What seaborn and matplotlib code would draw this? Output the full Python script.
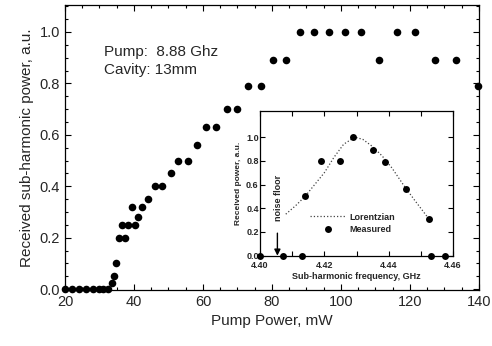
import matplotlib
matplotlib.use("Agg")
import numpy as np
import pandas as pd
import seaborn as sns
import matplotlib.pyplot as plt
from matplotlib.ticker import MultipleLocator, FixedLocator, FormatStrFormatter

# Main curve: received sub-harmonic power vs pump power
pump_mw = [20, 22, 24, 26, 28, 30, 31, 32.5, 33.5, 34.2, 34.9, 35.6, 36.6, 37.5, 38.4,
           39.4, 40.3, 41.1, 42.2, 44.2, 46.2, 48.2, 50.7, 52.9, 55.6, 58.2, 60.9, 63.8,
           67.0, 70.0, 73.2, 76.8, 80.4, 84.1, 88.1, 92.3, 96.6, 101.2, 105.9, 111.0,
           116.2, 121.6, 127.4, 133.3, 139.6]
power = [0, 0, 0, 0, 0, 0, 0, 0, 0.025, 0.05, 0.10, 0.20, 0.25, 0.20, 0.25,
         0.32, 0.25, 0.28, 0.32, 0.35, 0.40, 0.40, 0.45, 0.50, 0.50, 0.56, 0.63, 0.63,
         0.70, 0.70, 0.79, 0.79, 0.89, 0.89, 1.0, 1.0, 1.0, 1.0, 1.0, 0.89,
         1.0, 1.0, 0.89, 0.89, 0.79]

# Inset: spectrum around the sub-harmonic
freq_ghz = [4.400, 4.407, 4.413, 4.414, 4.419, 4.425, 4.429, 4.435, 4.439, 4.4455, 4.4525, 4.453, 4.4575]
rel_power = [0, 0, 0, 0.5, 0.8, 0.8, 1.0, 0.89, 0.79, 0.56, 0.31, 0, 0]

# Lorentzian fit
fit_freq = [4.408, 4.411, 4.414, 4.417, 4.420, 4.423, 4.426, 4.4295, 4.432, 4.435,
            4.438, 4.441, 4.4445, 4.448, 4.4525]
fit_power = [0.35, 0.42, 0.50, 0.60, 0.70, 0.83, 0.94, 1.0, 0.98, 0.92,
             0.84, 0.74, 0.60, 0.47, 0.31]

inset_yticks = [0.0, 0.2, 0.4, 0.6, 0.8, 1.0]

main_df = pd.DataFrame({"pump": pump_mw, "power": power})
meas_df = pd.DataFrame({"freq": freq_ghz, "power": rel_power})
fit_df = pd.DataFrame({"freq": fit_freq, "power": fit_power})

sns.set_style("ticks")
plt.rcParams["font.family"] = ["Liberation Sans", "DejaVu Sans"]
plt.rcParams["xtick.direction"] = "in"
plt.rcParams["ytick.direction"] = "in"

fig = plt.figure(figsize=(4.92, 3.46), dpi=100)
ax = fig.add_axes([0.132, 0.162, 0.8415, 0.8237])

sns.scatterplot(data=main_df, x="pump", y="power", ax=ax, color="black",
                s=30, edgecolor="black", linewidth=0, clip_on=False, legend=False)
ax.set_xlim(20, 140)
ax.set_ylim(-0.003, 1.105)
ax.xaxis.set_major_locator(MultipleLocator(20))
ax.xaxis.set_minor_locator(MultipleLocator(5))
ax.yaxis.set_major_locator(MultipleLocator(0.2))
ax.yaxis.set_minor_locator(MultipleLocator(0.05))
ax.yaxis.set_major_formatter(FormatStrFormatter("%.1f"))
ax.tick_params(which="both", top=True, right=True, labelsize=10.5, color="black", width=0.8)
ax.tick_params(which="major", length=4)
ax.tick_params(which="minor", length=2.5)
for sp in ax.spines.values():
    sp.set_linewidth(0.9)
    sp.set_color("black")
ax.set_xlabel("Pump Power, mW", fontsize=11)
ax.set_ylabel("Received sub-harmonic power, a.u.", fontsize=11)

ax.text(0.094, 0.835, "Pump:  8.88 Ghz", transform=ax.transAxes, fontsize=11, va="center")
ax.text(0.094, 0.772, "Cavity: 13mm", transform=ax.transAxes, fontsize=11, va="center")

# inset
ins = fig.add_axes([0.5285, 0.261, 0.3923, 0.4182])
sns.lineplot(data=fit_df, x="freq", y="power", ax=ins, color="#444444", linestyle=":",
             linewidth=0.9, sort=False, label="Lorentzian")
sns.scatterplot(data=meas_df, x="freq", y="power", ax=ins, color="black", s=25,
                linewidth=0, clip_on=False, label="Measured", zorder=5)
ins.set_xlim(4.40, 4.46)
ins.set_ylim(0, 1.22)
ins.xaxis.set_major_locator(MultipleLocator(0.02))
ins.xaxis.set_minor_locator(MultipleLocator(0.01))
ins.yaxis.set_major_locator(FixedLocator(inset_yticks))
ins.xaxis.set_major_formatter(FormatStrFormatter("%.2f"))
ins.yaxis.set_major_formatter(FormatStrFormatter("%.1f"))
ins.tick_params(which="both", top=True, right=True, labelsize=6.5, color="black",
                width=0.8)
ins.tick_params(axis="x", pad=4)
ins.tick_params(axis="y", pad=1)
ins.tick_params(which="major", length=3.5)
ins.tick_params(which="minor", length=3.5)
for lab in ins.get_xticklabels() + ins.get_yticklabels():
    lab.set_fontweight("bold")
for sp in ins.spines.values():
    sp.set_linewidth(0.9)
    sp.set_color("black")
ins.set_xlabel("Sub-harmonic frequency, GHz", fontsize=6.5, fontweight="bold", labelpad=1)
ins.set_ylabel("Received power, a.u.", fontsize=6, fontweight="bold", labelpad=3)

ins.annotate("", xy=(4.4054, 0.0), xytext=(4.4054, 0.19),
             arrowprops=dict(arrowstyle="-|>", color="black", lw=1.0,
                             mutation_scale=9, shrinkA=0, shrinkB=0))
ins.text(4.4057, 0.49, "noise floor", rotation=90, fontsize=6.5, fontweight="bold",
         ha="center", va="center")

leg = ins.legend(loc="center left", bbox_to_anchor=(0.26, 0.225), frameon=False,
                 fontsize=6.5, handlelength=4.0, handletextpad=0.3, labelspacing=0.35,
                 borderpad=0, borderaxespad=0)
for t in leg.get_texts():
    t.set_fontweight("bold")

fig.savefig("out.png", dpi=100)
